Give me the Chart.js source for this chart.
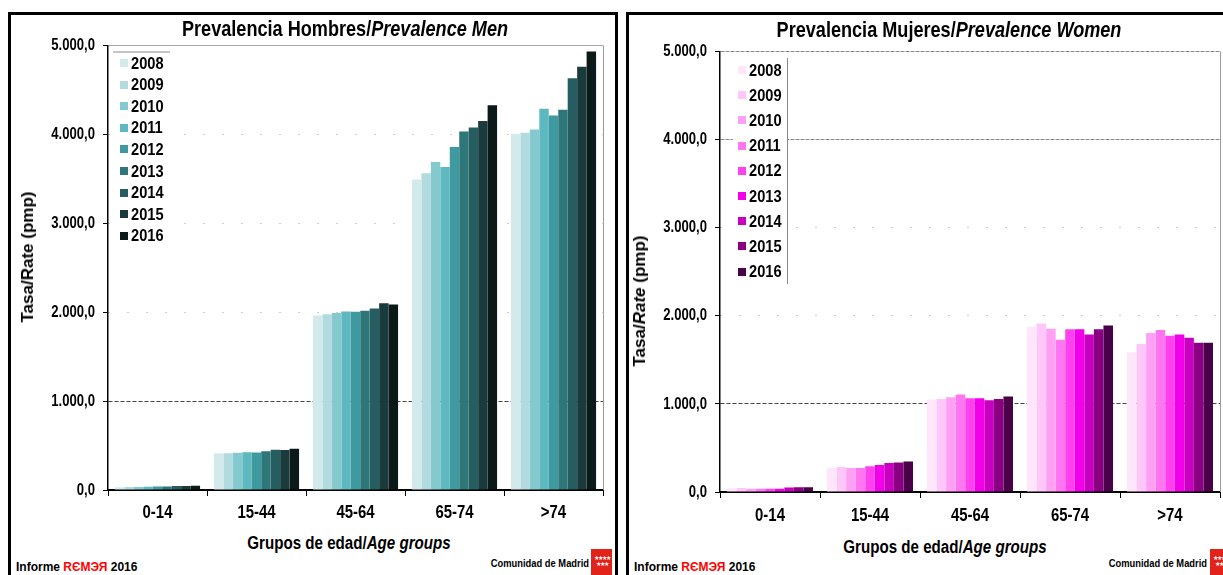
<!DOCTYPE html>
<html>
<head>
<meta charset="utf-8">
<script src="https://cdn.jsdelivr.net/npm/chart.js@4.4.1/dist/chart.umd.min.js"></script>
<style>
  body { margin: 0; width: 1223px; height: 575px; overflow: hidden; position: relative; background: #fff;
         font-family: 'Liberation Sans', Arial, sans-serif; }
  .panel { position: absolute; top: 12px; height: 600px; border: 3px solid #000; box-sizing: border-box; }
  #pMen   { left: 8px;   width: 610px; }
  #pWomen { left: 626px; width: 620px; }
  canvas { position: absolute; }
  #men   { left: 10px;  top: 30px; }
  #women { left: 630px; top: 30px; }
  .t { position: absolute; white-space: nowrap; font-weight: bold; color: #000; }
  /* no narrow face installed: squeeze the regular one */
  .title { font-size: 22px; transform: translate(-50%, -50%) scaleX(0.823); }
  .xt { font-size: 18px; transform: translate(-50%, -50%) scaleX(0.84); }
  .yt { font-size: 17px; transform: translate(-50%, -50%) rotate(-90deg); }
  .foot { font-size: 12px; transform: translateY(-50%); }
  .red { color: #ff0000; }
  .cm { font-size: 11px; transform-origin: right center; transform: translate(-100%, -50%) scaleX(0.85); }
  .logo { position: absolute; width: 21px; height: 26px; background: #e2231a; color: #fff; font-size: 6px;
          line-height: 6px; text-align: center; padding-top: 6px; box-sizing: border-box; letter-spacing: -1px; }
</style>
</head>
<body>
<div class="panel" id="pMen"></div>
<div class="panel" id="pWomen"></div>

<canvas id="men" width="600" height="500"></canvas>
<canvas id="women" width="593" height="503"></canvas>

<div class="t title" style="left:345px;top:29px">Prevalencia Hombres/<i>Prevalence Men</i></div>
<div class="t title" style="left:949px;top:30px">Prevalencia Mujeres/<i>Prevalence Women</i></div>

<div class="t yt" style="left:28px;top:257px">Tasa/Rate (pmp)</div>
<div class="t yt" style="left:640px;top:301px">Tasa/<i>Rate</i> (pmp)</div>

<div class="t xt" style="left:349px;top:543px">Grupos de edad/<i>Age groups</i></div>
<div class="t xt" style="left:945px;top:547px">Grupos de edad/<i>Age groups</i></div>

<div class="t foot" style="left:16px;top:567px">Informe <span class="red">RЄMЭЯ</span> 2016</div>
<div class="t foot" style="left:634px;top:567px">Informe <span class="red">RЄMЭЯ</span> 2016</div>

<div class="t cm" style="left:589px;top:563px">Comunidad de Madrid</div>
<div class="logo" style="left:591px;top:549px">★★★★<br>★★★</div>
<div class="t cm" style="left:1207px;top:563px">Comunidad de Madrid</div>
<div class="logo" style="left:1210px;top:549px">★★★★<br>★★★</div>

<script>
// ── Data ─────────────────────────────────────────────────────────────────
const ageGroups = ['0-14', '15-44', '45-64', '65-74', '>74'];
const years     = ['2008', '2009', '2010', '2011', '2012', '2013', '2014', '2015', '2016'];
const yTicks    = [0, 1000, 2000, 3000, 4000, 5000];

// rate (pmp) per year 2008..2016, one array per age group
const men0014   = [32, 33, 34, 37, 38, 40, 45, 46, 47];
const men1544   = [412, 412, 418, 425, 423, 436, 454, 450, 465];
const men4564   = [1963, 1978, 1992, 2007, 2004, 2015, 2041, 2101, 2086];
const men6574   = [3494, 3562, 3689, 3633, 3858, 4034, 4079, 4150, 4329];
const men75plus = [4007, 4019, 4056, 4288, 4213, 4277, 4633, 4760, 4933];

const women0014   = [42, 44, 36, 36, 37, 38, 52, 53, 54];
const women1544   = [272, 283, 272, 272, 291, 306, 328, 336, 347];
const women4564   = [1050, 1057, 1076, 1106, 1065, 1065, 1042, 1057, 1084];
const women6574   = [1876, 1914, 1854, 1729, 1846, 1846, 1789, 1846, 1891];
const women75plus = [1585, 1680, 1804, 1838, 1774, 1789, 1752, 1695, 1695];

const menColors   = ['#d3eaec', '#b1dbdf', '#84c9cd', '#5db8bf', '#3f9aa0', '#2f7679', '#265d61', '#1b3a3c', '#0c1919'];
const womenColors = ['#ffe6fb', '#ffc6f9', '#ffa0f5', '#ff76f0', '#ff40ee', '#f200ea', '#c800c0', '#8a0083', '#4b004a'];

const SANS = "'Liberation Sans', Arial, sans-serif";

// 5000 -> "5.000,0"
function fmtRate(v) {
  return String(Math.round(v)).replace(/\B(?=(\d{3})+(?!\d))/g, '.') + ',0';
}

// horizontally squeezed text (stands in for Arial Narrow)
function drawNarrow(ctx, text, x, y, align, sx) {
  ctx.save();
  ctx.translate(x, y);
  ctx.scale(sx, 1);
  ctx.textAlign = align;
  ctx.fillText(text, 0, 0);
  ctx.restore();
}

// ── Tick labels, drawn from the scales ───────────────────────────────────
const narrowLabels = {
  id: 'narrowLabels',
  afterDraw(chart, args, o) {
    const { ctx, scales: { x, y } } = chart;
    ctx.save();
    ctx.fillStyle = '#000';
    ctx.textBaseline = 'middle';
    ctx.font = `bold 17px ${SANS}`;
    y.ticks.forEach(t => drawNarrow(ctx, fmtRate(t.value), y.right - 13, y.getPixelForValue(t.value), 'right', 0.77));
    ctx.font = `bold 18px ${SANS}`;
    chart.data.labels.forEach((lab, i) => drawNarrow(ctx, lab, x.getPixelForTick(i), x.top + o.xGap, 'center', 0.83));
    ctx.restore();
  },
};

// ── Legend box drawn inside the plot area ────────────────────────────────
const boxLegend = {
  id: 'boxLegend',
  afterDraw(chart, args, o) {
    const { ctx, chartArea: a } = chart;
    ctx.save();
    ctx.fillStyle = '#fff';
    ctx.fillRect(a.left + o.boxX, a.top + o.boxY, o.boxW, o.boxH);

    ctx.strokeStyle = '#8a8a8a';
    ctx.lineWidth = 1;
    ctx.beginPath();
    if (o.rule === 'top') {
      ctx.moveTo(a.left + o.boxX, a.top + o.boxY + 0.5);
      ctx.lineTo(a.left + o.boxX + o.boxW, a.top + o.boxY + 0.5);
    } else {
      ctx.moveTo(a.left + o.boxX + o.boxW + 0.5, a.top + o.boxY);
      ctx.lineTo(a.left + o.boxX + o.boxW + 0.5, a.top + o.boxY + o.boxH);
    }
    ctx.stroke();

    ctx.font = `bold 17px ${SANS}`;
    ctx.textBaseline = 'middle';
    chart.data.datasets.forEach((ds, i) => {
      const y = a.top + o.firstY + i * o.step;
      ctx.fillStyle = ds.backgroundColor;
      ctx.fillRect(a.left + o.swX, Math.round(y - 4), 8, 8);
      ctx.fillStyle = '#000';
      drawNarrow(ctx, ds.label, a.left + o.swX + 11, y + 1, 'left', 0.86);
    });
    ctx.restore();
  },
};

// ── Grey right edge of the plot area ─────────────────────────────────────
const plotFrame = {
  id: 'plotFrame',
  afterDatasetsDraw(chart) {
    const { ctx, chartArea: a } = chart;
    ctx.save();
    ctx.strokeStyle = '#9a9a9a';
    ctx.lineWidth = 1;
    ctx.beginPath();
    ctx.moveTo(a.right + 0.5, a.top);
    ctx.lineTo(a.right + 0.5, a.bottom);
    ctx.stroke();
    ctx.restore();
  },
};

// ── Chart builder ────────────────────────────────────────────────────────
function buildChart(id, rows, colors, cfg) {
  const datasets = years.map((yr, i) => ({
    label: yr,
    data: rows.map(r => r[i]),
    backgroundColor: colors[i],
    borderWidth: 0,
    categoryPercentage: 0.86,
    barPercentage: 1.0,
  }));

  return new Chart(document.getElementById(id), {
    type: 'bar',
    data: { labels: ageGroups, datasets },
    options: {
      responsive: false,
      animation: false,
      layout: { padding: cfg.padding },
      plugins: {
        legend: { display: false },
        tooltip: { enabled: false },
        boxLegend: cfg.legend,
        narrowLabels: { xGap: cfg.xGap },
      },
      scales: {
        x: {
          grid: { offset: true, drawOnChartArea: false, tickLength: 6, tickColor: '#000', tickWidth: 1 },
          border: { color: '#000', width: 2 },
          ticks: { display: false },
          afterFit: s => { s.height = cfg.xHeight; },
        },
        y: {
          min: 0,
          max: 5000,
          afterBuildTicks: s => { s.ticks = yTicks.map(v => ({ value: v })); },
          ticks: { display: false },
          grid: {
            color: c => (c.tick ? cfg.gridColor(c.tick.value) : 'transparent'),
            lineWidth: 1,
            tickLength: 5,
            tickColor: '#000',
          },
          border: {
            color: '#000',
            width: 1.5,
            dash: c => (c.tick ? cfg.gridDash(c.tick.value) : []),
          },
          afterFit: s => { s.width = cfg.yWidth; },
        },
      },
    },
    plugins: [plotFrame, boxLegend, narrowLabels],
  });
}

buildChart('men', [men0014, men1544, men4564, men6574, men75plus], menColors, {
  padding: { left: 0, top: 15.5, right: 7, bottom: 0 },
  yWidth: 98,
  xHeight: 40,
  xGap: 23,
  gridColor: v => (v === 0 ? 'transparent' : v === 1000 ? '#444' : v === 5000 ? '#a8a8a8' : '#9a9a9a'),
  gridDash:  v => (v === 1000 ? [4, 2] : v === 5000 || v === 0 ? [] : [1, 18]),
  legend: { rule: 'top', boxX: 5, boxY: 6, boxW: 57, boxH: 196, swX: 12, firstY: 17.5, step: 21.6 },
});

buildChart('women', [women0014, women1544, women4564, women6574, women75plus], womenColors, {
  padding: { left: 0, top: 21.5, right: 3, bottom: 0 },
  yWidth: 90,
  xHeight: 41,
  xGap: 24,
  gridColor: v => (v === 0 ? 'transparent' : v === 1000 ? '#444' : v >= 4000 ? '#8a8a8a' : '#9a9a9a'),
  gridDash:  v => (v === 1000 ? [4, 2] : v >= 4000 ? [4, 1] : v === 0 ? [] : [1, 18]),
  legend: { rule: 'right', boxX: 13, boxY: 6.5, boxW: 54, boxH: 226, swX: 18, firstY: 18.5, step: 25.2 },
});
</script>
</body>
</html>
